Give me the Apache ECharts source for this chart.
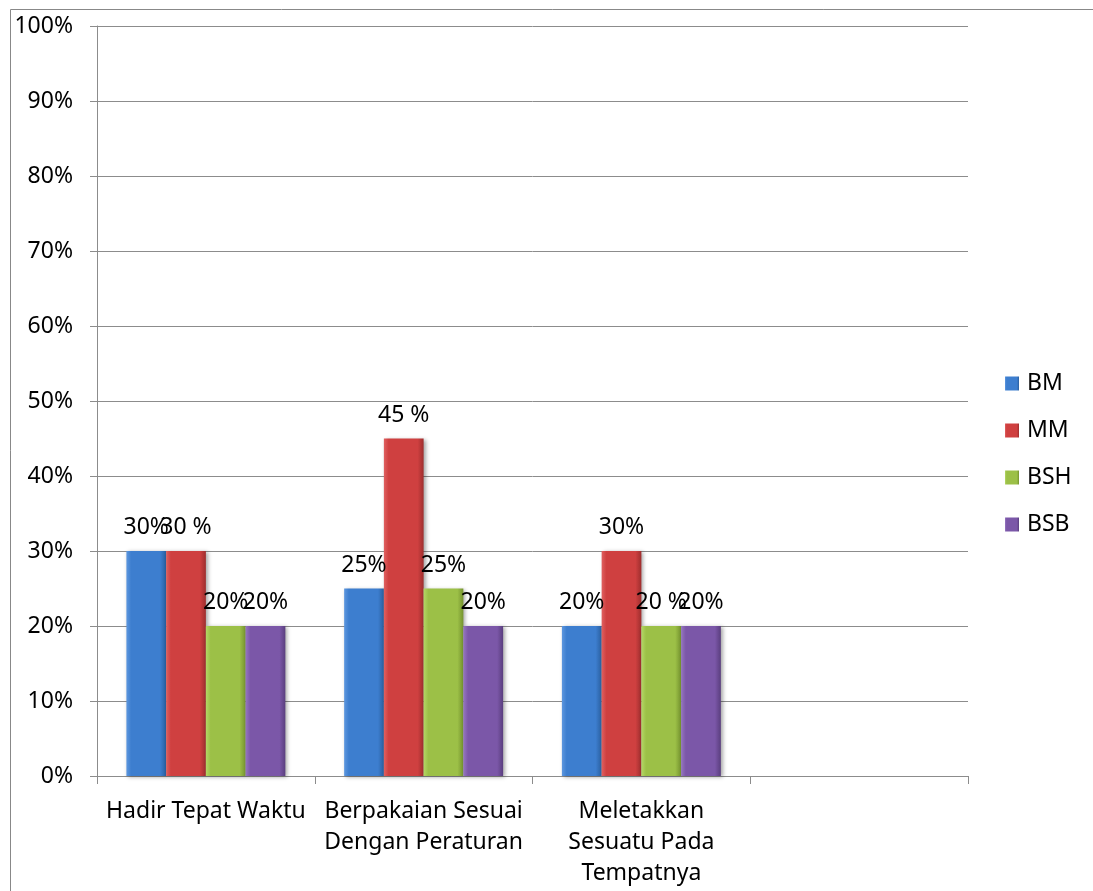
<!DOCTYPE html>
<html>
<head>
<meta charset="utf-8">
<script src="https://cdn.jsdelivr.net/npm/echarts@6/dist/echarts.min.js"></script>
<style>
  html, body { margin: 0; padding: 0; background: #fff; }
  #chart { width: 1093px; height: 891px; }
</style>
</head>
<body>
<div id="chart"></div>
<script>
// kategori (slot ke-4 kosong seperti di Excel)
var categories = ['Hadir Tepat Waktu', 'Berpakaian Sesuai\nDengan Peraturan', 'Meletakkan\nSesuatu Pada\nTempatnya', '']
var seriesNames = ['BM', 'MM', 'BSH', 'BSB']
// nilai dalam persen
var bmValues = [30, 25, 20, null]
var mmValues = [30, 45, 30, null]
var bshValues = [20, 25, 20, null]
var bsbValues = [20, 20, 20, null]
// teks label seperti tertulis di gambar
var bmLabels = ['30%', '25%', '20%', '']
var mmLabels = ['30 %', '45 %', '30%', '']
var bshLabels = ['20%', '25%', '20 %', '']
var bsbLabels = ['20%', '20%', '20%', '']
var yTicks = [0, 10, 20, 30, 40, 50, 60, 70, 80, 90, 100]

var fontName = '"Noto Sans", "Open Sans", sans-serif'
var fs = 23

function barColor(light, mid, dark) {
  return new echarts.graphic.LinearGradient(0, 0, 1, 0, [
    { offset: 0, color: light },
    { offset: 0.12, color: mid },
    { offset: 0.85, color: mid },
    { offset: 1, color: dark }
  ])
}

var palette = [
  barColor('#5d97df', '#3d7ecf', '#2a5f9f'),
  barColor('#e06060', '#cf4040', '#9e2e2e'),
  barColor('#b4d765', '#9cc047', '#75932f'),
  barColor('#9576c0', '#7b57a8', '#5a3e7e')
]
var legendColors = ['#3d7ecf', '#cf4040', '#9cc047', '#7b57a8']

function makeSeries(idx, values, labels) {
  return {
    name: seriesNames[idx],
    type: 'bar',
    data: values,
    barGap: 0,
    barCategoryGap: '27%',
    itemStyle: {
      color: palette[idx],
      shadowColor: 'rgba(0,0,0,0.35)',
      shadowBlur: 4,
      shadowOffsetX: 2,
      shadowOffsetY: 1
    },
    label: {
      show: true,
      position: 'top',
      distance: 12,
      color: '#000',
      fontSize: fs,
      fontFamily: fontName,
      formatter: function(p) { return labels[p.dataIndex] }
    }
  }
}

var myChart = echarts.init(document.getElementById('chart'))
var option = {
  animation: false,
  color: legendColors,
  graphic: [{
    type: 'rect',
    shape: { x: 10.5, y: 9.5, width: 1200, height: 1000 },
    style: { fill: 'none', stroke: '#888', lineWidth: 1 },
    silent: true
  }],
  grid: { left: 97, right: 125, top: 26, bottom: 115, containLabel: false },
  legend: {
    orient: 'vertical',
    left: 1000,
    top: 367,
    itemWidth: 14,
    itemHeight: 14,
    itemGap: 24,
    icon: 'rect',
    textStyle: { fontSize: fs, lineHeight: 23, fontFamily: fontName, color: '#000', padding: [0, 0, 0, 3] },
    data: seriesNames
  },
  xAxis: {
    type: 'category',
    data: categories,
    axisLine: { lineStyle: { color: '#8c8c8c', width: 1 } },
    axisTick: { show: true, length: 8, alignWithLabel: false, lineStyle: { color: '#8c8c8c' } },
    axisLabel: {
      color: '#000',
      fontSize: fs,
      fontFamily: fontName,
      margin: 20,
      lineHeight: 31,
      interval: 0
    }
  },
  yAxis: {
    type: 'value',
    min: yTicks[0],
    max: yTicks[yTicks.length - 1],
    interval: 10,
    axisLine: { show: true, lineStyle: { color: '#8c8c8c', width: 1 } },
    axisTick: { show: true, length: 7, lineStyle: { color: '#8c8c8c' } },
    splitLine: { show: true, lineStyle: { color: '#8c8c8c', width: 1 } },
    axisLabel: {
      color: '#000',
      fontSize: fs,
      fontFamily: fontName,
      margin: 24,
      formatter: '{value}%'
    }
  },
  series: [
    makeSeries(0, bmValues, bmLabels),
    makeSeries(1, mmValues, mmLabels),
    makeSeries(2, bshValues, bshLabels),
    makeSeries(3, bsbValues, bsbLabels)
  ]
}
myChart.setOption(option)
window.addEventListener('resize', function() {
  myChart.resize()
})
</script>
</body>
</html>
